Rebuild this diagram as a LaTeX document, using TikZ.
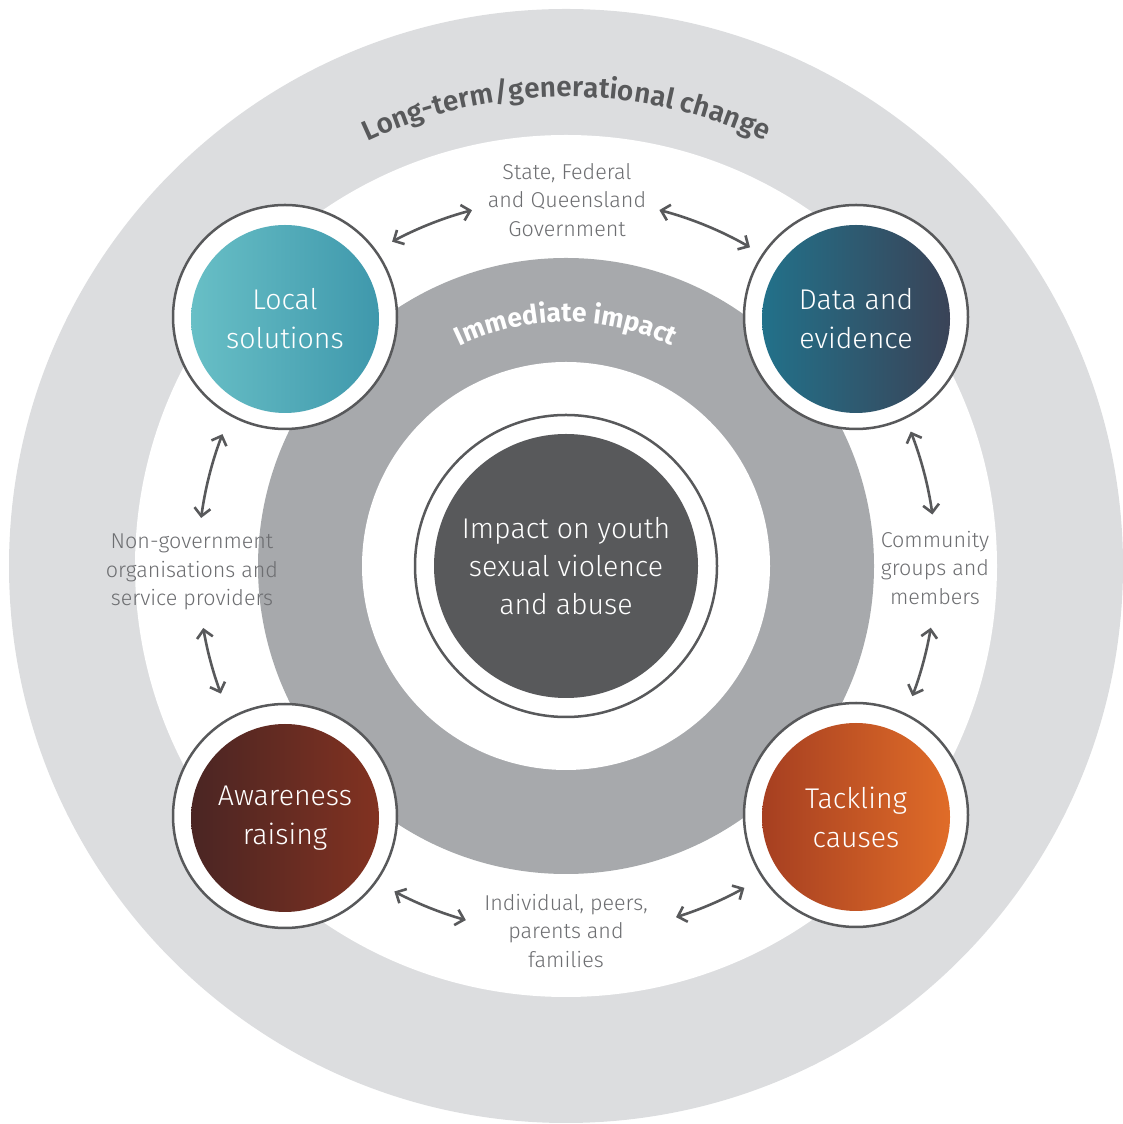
\documentclass[tikz,border=0pt]{standalone}
\usepackage{fontspec}
\setmainfont{Fira Sans Light}
\newfontfamily\semib{Fira Sans SemiBold}
\newfontfamily\boldf{Fira Sans Bold}
\usetikzlibrary{arrows.meta,decorations.text,calc}
\definecolor{outerring}{HTML}{DCDDDF}
\definecolor{midring}{HTML}{A7A9AC}
\definecolor{corefill}{HTML}{58595B}
\definecolor{outline}{HTML}{58595B}
\definecolor{lblc}{HTML}{6D6E71}
\definecolor{titlec}{HTML}{58595B}
\definecolor{lsA}{HTML}{68BFC6}\definecolor{lsM}{HTML}{56AAB8}\definecolor{lsB}{HTML}{3F98AC}
\definecolor{deA}{HTML}{22718A}\definecolor{deM}{HTML}{1D4E6E}\definecolor{deB}{HTML}{3A4357}
\definecolor{arA}{HTML}{4A2523}\definecolor{arM}{HTML}{5E1D0F}\definecolor{arB}{HTML}{823221}
\definecolor{tcA}{HTML}{A63F21}\definecolor{tcM}{HTML}{C55A25}\definecolor{tcB}{HTML}{E06C28}
\begin{document}
\begin{tikzpicture}[x=1pt,y=1pt,
  satring/.style={circle, draw=outline, line width=2.5pt, fill=white, minimum size=224pt, inner sep=0pt},
  satfill/.style={circle, minimum size=188pt, inner sep=0pt, align=center, text=white,
     font=\fontsize{28.5}{39}\selectfont},
  corering/.style={circle, draw=outline, line width=2.5pt, fill=white, minimum size=302pt, inner sep=0pt},
  corefillst/.style={circle, fill=corefill, minimum size=264pt, inner sep=0pt, align=center, text=white,
     font=\fontsize{28.5}{38}\selectfont},
  lbl/.style={align=center, text=lblc, inner sep=0pt, font=\fontsize{21.5}{28.5}\selectfont},
  biarrow/.style={draw=outline, line width=2.6pt,
     {Straight Barb[length=8pt,width=16pt,line width=2.6pt]}-{Straight Barb[length=8pt,width=16pt,line width=2.6pt]}}
]
\useasboundingbox (0,0) rectangle (1123,1124);
\coordinate (C) at (566,558);
% rings
\fill[outerring] (C) circle (557);
\fill[white] (C) circle (431);
\fill[midring] (C) circle (308);
\fill[white] (C) circle (204);
% curved titles
\path[decorate, decoration={text along path, text align=center,
  text={|\semib\fontsize{28}{28}\selectfont\color{titlec}|Long-term/generational change}}]
  ($(C)+(150:469)$) arc[start angle=150, end angle=30, radius=469];
\path[decorate, decoration={text along path, text align=center,
  text={|\boldf\fontsize{26.5}{26.5}\selectfont\color{white}|Immediate impact}}]
  ($(C)+(150:244)$) arc[start angle=150, end angle=30, radius=244];
% core
\node[corering] (corering) at (C) {};
\node[corefillst] (core) at (C) {Impact on youth\\sexual violence\\and abuse};
% satellites
\node[satring] (lsring) at (285,807) {};
\node[satfill, left color=lsA, middle color=lsM, right color=lsB] (ls) at (285,805) {Local\\solutions};
\node[satring] (dering) at (856,807) {};
\node[satfill, left color=deA, middle color=deM, right color=deB] (de) at (856,805) {Data and\\evidence};
\node[satring] (arring) at (285,308) {};
\node[satfill, left color=arA, middle color=arM, right color=arB] (ar) at (285,306) {Awareness\\raising};
\node[satring] (tcring) at (856,309) {};
\node[satfill, left color=tcA, middle color=tcM, right color=tcB] (tc) at (856,307) {Tackling\\causes};
% labels
\node[lbl] (gov) at (567,924) {State, Federal\\and Queensland\\Government};
\node[lbl] (ngo) at (192,552) {Non-government\\organisations and\\service providers};
\node[lbl] (com) at (935,556) {Community\\groups and\\members};
\node[lbl] (ind) at (566,193) {Individual, peers,\\parents and\\families};
% arrows (arcs around centre)
\coordinate (tl) at ($(C)+(118.2:368)$);
\coordinate (tr) at ($(C)+(75.3:368)$);
\coordinate (lu) at ($(C)+(159:368)$);
\coordinate (ll) at ($(C)+(189.7:368)$);
\coordinate (ru) at ($(C)+(21.3:370)$);
\coordinate (rl) at ($(C)+(-9.6:370)$);
\coordinate (bl) at ($(C)+(242.2:368)$);
\coordinate (br) at ($(C)+(287.4:368)$);
\draw[biarrow] (tl) arc[start angle=118.2, end angle=104.8, radius=368];
\draw[biarrow] (tr) arc[start angle=75.3, end angle=60, radius=368];
\draw[biarrow] (lu) arc[start angle=159, end angle=172.5, radius=368];
\draw[biarrow] (ll) arc[start angle=189.7, end angle=200.3, radius=368];
\draw[biarrow] (ru) arc[start angle=21.3, end angle=8, radius=370];
\draw[biarrow] (rl) arc[start angle=-9.6, end angle=-20.6, radius=370];
\draw[biarrow] (bl) arc[start angle=242.2, end angle=254.2, radius=368];
\draw[biarrow] (br) arc[start angle=287.4, end angle=299, radius=368];
\end{tikzpicture}
\end{document}
